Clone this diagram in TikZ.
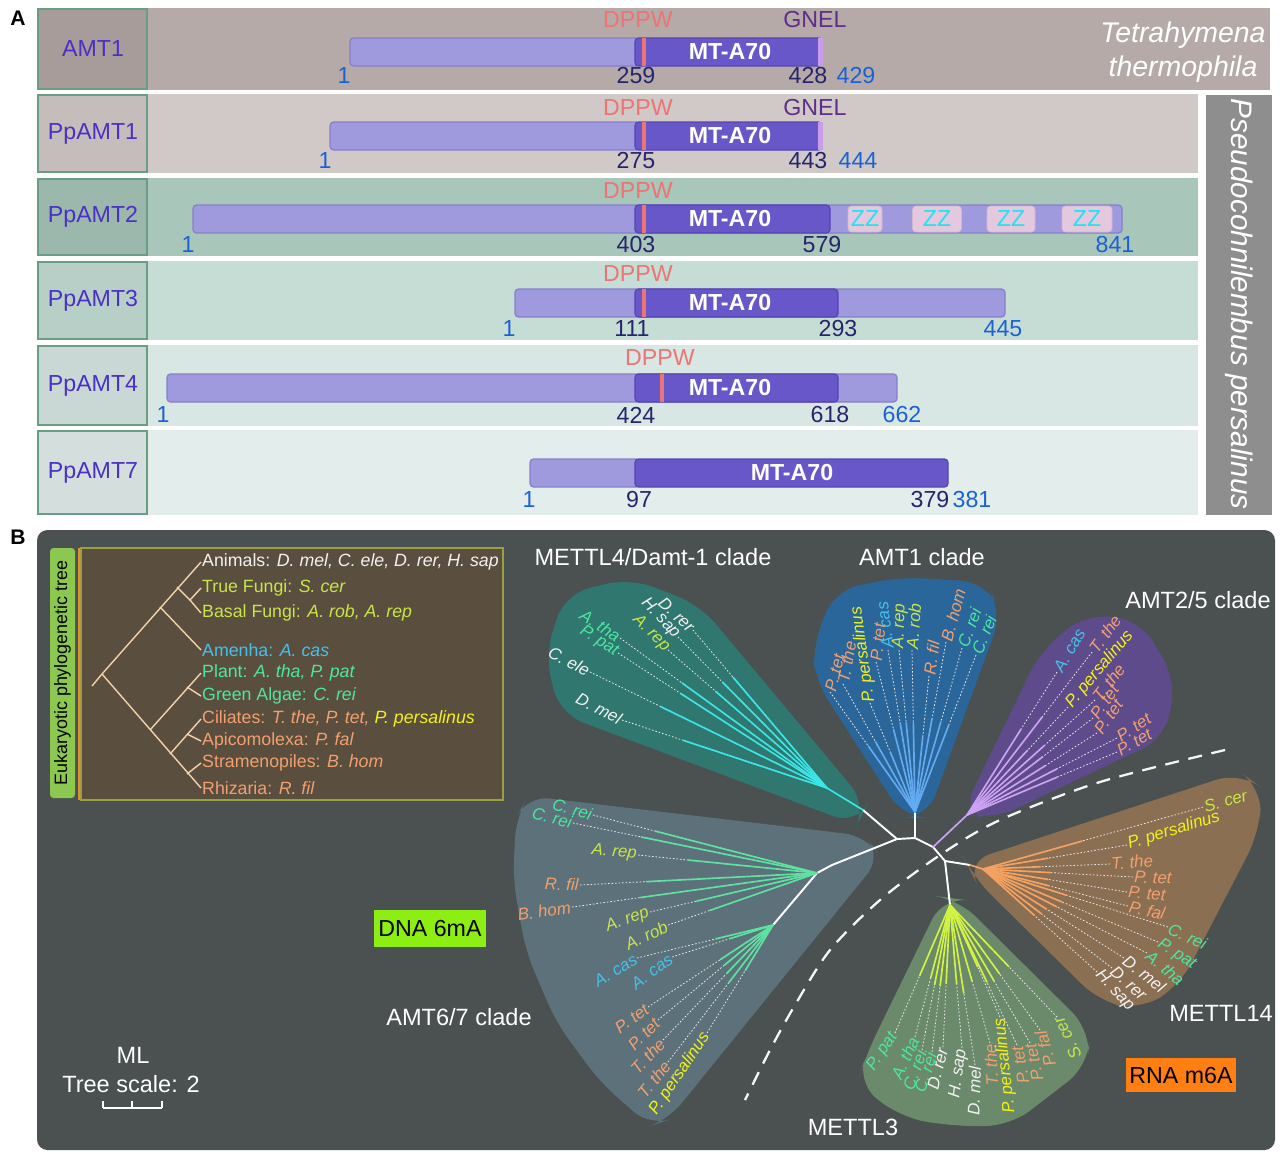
\documentclass[tikz,border=0pt]{standalone}
\usepackage{fontspec}
\setmainfont{Liberation Sans}
\usetikzlibrary{calc,positioning}

% panel A colours
\definecolor{rowa}{HTML}{B5AAA8}
\definecolor{rowb}{HTML}{D1C9C7}
\definecolor{rowc}{HTML}{A9C6BA}
\definecolor{rowd}{HTML}{C6DDD5}
\definecolor{rowe}{HTML}{D9E7E4}
\definecolor{rowf}{HTML}{E3EDEB}
\definecolor{boxa}{HTML}{A79C9A}
\definecolor{boxb}{HTML}{C5BDBB}
\definecolor{boxc}{HTML}{9CB8AC}
\definecolor{boxd}{HTML}{B8CFC7}
\definecolor{boxe}{HTML}{CAD8D5}
\definecolor{boxf}{HTML}{D4DEDC}
\definecolor{boxedge}{HTML}{6A9E84}
\definecolor{protname}{HTML}{4A30C4}
\definecolor{barlight}{HTML}{9F99DE}
\definecolor{barshade}{HTML}{8780C8}
\definecolor{bardark}{HTML}{6757C8}
\definecolor{bardarkshade}{HTML}{5546B2}
\definecolor{dppwred}{HTML}{EC7474}
\definecolor{gnelviolet}{HTML}{5E2E88}
\definecolor{gnelbar}{HTML}{C89CEA}
\definecolor{numblue}{HTML}{1A62D2}
\definecolor{numdark}{HTML}{26246A}
\definecolor{zzpink}{HTML}{E4C8DE}
\definecolor{zzcyan}{HTML}{1EE4F0}
\definecolor{sidegray}{HTML}{8E8E8E}
% panel B colours
\definecolor{panelbg}{HTML}{4A5150}
\definecolor{insetbrown}{HTML}{5A4E3E}
\definecolor{insetframe}{HTML}{9AA040}
\definecolor{insetgreen}{HTML}{8CC850}
\definecolor{insetorange}{HTML}{E0902A}
\definecolor{insettree}{HTML}{F2D2AA}
\definecolor{spwhite}{HTML}{F2F2F2}
\definecolor{spfungi}{HTML}{C8E64A}
\definecolor{spcyan}{HTML}{44C2EC}
\definecolor{spgreen}{HTML}{4EE6A0}
\definecolor{sporange}{HTML}{F2A070}
\definecolor{spyellow}{HTML}{F2F21A}
\definecolor{mfourfill}{HTML}{2F776F}
\definecolor{aonefill}{HTML}{2A6699}
\definecolor{atwofill}{HTML}{5E4B8C}
\definecolor{mfourteenfill}{HTML}{8B6F53}
\definecolor{mthreefill}{HTML}{6B8A6B}
\definecolor{asixfill}{HTML}{5C717A}
\definecolor{mfourline}{HTML}{3CE6E6}
\definecolor{aoneline}{HTML}{62AAF2}
\definecolor{atwoline}{HTML}{CCA2F2}
\definecolor{mfourteenline}{HTML}{F4A262}
\definecolor{mthreeline}{HTML}{D2F244}
\definecolor{asixline}{HTML}{5EE2A2}
\definecolor{dnagreen}{HTML}{8CEE12}
\definecolor{rnaorange}{HTML}{FF7F12}

\begin{document}
\begin{tikzpicture}[
    x=0.02cm, y=0.02cm,
    panel letter/.style={font=\fontsize{12}{14}\selectfont\bfseries, text=black},
    name box/.style={draw=boxedge, line width=1.2pt},
    prot name/.style={font=\fontsize{13.2}{15}\selectfont, text=protname},
    lbar/.style={fill=barlight, draw=barshade, line width=0.7pt, rounded corners=2pt},
    dbar/.style={fill=bardark, draw=bardarkshade, line width=0.7pt, rounded corners=2pt},
    mta text/.style={font=\fontsize{13.2}{15}\selectfont\bfseries, text=white},
    motif/.style={font=\fontsize{13.2}{15}\selectfont},
    num/.style={font=\fontsize{13.2}{15}\selectfont, inner sep=0pt},
    zz box/.style={fill=zzpink, draw=zzpink!80!gray, rounded corners=2pt, text=zzcyan,
        font=\fontsize{13.2}{15}\selectfont, minimum height=0.52cm, inner sep=0pt},
    species/.style={font=\fontsize{16.2}{19.5}\selectfont\itshape, text=white},
    clade title/.style={font=\fontsize{13.4}{15}\selectfont, text=white},
    leaf/.style={font=\fontsize{9.6}{11}\selectfont\itshape, inner sep=0.6pt},
    leafW/.style={leaf, anchor=west},
    leafE/.style={leaf, anchor=east},
    twig/.style={draw=white!85!gray, line width=0.45pt, dash pattern=on 0.9pt off 1.1pt},
    branch/.style={line width=0.95pt, line cap=round},
    spine/.style={draw=white, line width=1.1pt, line join=round},
    inset label/.style={font=\fontsize{10.1}{11}\selectfont, anchor=west, inner sep=0.5pt},
    inset tree/.style={draw=insettree, line width=0.8pt},
    tag box/.style={font=\fontsize{13.2}{15}\selectfont, text=black, inner sep=0pt}
]

% SAME BOUNDING BOX
\path[use as bounding box] (0,0) rectangle (1280,-1153);

%% ---------------- PANEL A ----------------
\node[panel letter] (lA) at (18,-18) {A};

% rows and name boxes
\foreach \nm/\top/\bot/\rgt/\bg/\bx in {
    AMT1/8/90/1270/rowa/boxa,
    PpAMT1/94/173/1198/rowb/boxb,
    PpAMT2/178/256/1198/rowc/boxc,
    PpAMT3/261/340/1198/rowd/boxd,
    PpAMT4/345/426/1198/rowe/boxe,
    PpAMT7/430/515/1198/rowf/boxf}{
  \fill[\bg] (37,-\top) rectangle (\rgt,-\bot);
  \draw[name box, fill=\bx] (38,-\top-1) rectangle (147,-\bot+1);
  \node[prot name] (n-\nm) at (93,{-(\top+\bot)/2}) {\nm};
}

% species side labels
\node[species, align=center] (tth) at (1183,-52) {Tetrahymena\\thermophila};
\fill[sidegray] (1206,-95) rectangle (1272,-515);
\node[species, rotate=-90, font=\fontsize{16.9}{19}\selectfont\itshape] (ppe) at (1239,-304) {Pseudocohnilembus persalinus};

% AMT1
\draw[lbar] (350,-38) rectangle (640,-66);
\draw[dbar] (635,-38) rectangle (822,-66);
\fill[gnelbar] (818,-38) rectangle (823,-66);
\fill[dppwred] (642,-38) rectangle (646,-66);
\node[mta text] (d1) at (730,-52) {MT-A70};
\node[motif, text=dppwred] (m1a) at (638,-20) {DPPW};
\node[motif, text=gnelviolet] (m1b) at (815,-20) {GNEL};
\node[num, text=numblue] at (344,-76) {1};
\node[num, text=numdark] at (636,-76) {259};
\node[num, text=numdark] at (808,-76) {428};
\node[num, text=numblue] at (856,-76) {429};

% PpAMT1
\draw[lbar] (330,-122) rectangle (640,-150);
\draw[dbar] (635,-122) rectangle (822,-150);
\fill[gnelbar] (818,-122) rectangle (823,-150);
\fill[dppwred] (642,-122) rectangle (646,-150);
\node[mta text] (d2) at (730,-136) {MT-A70};
\node[motif, text=dppwred] (m2a) at (638,-108) {DPPW};
\node[motif, text=gnelviolet] (m2b) at (815,-108) {GNEL};
\node[num, text=numblue] at (325,-161) {1};
\node[num, text=numdark] at (636,-161) {275};
\node[num, text=numdark] at (808,-161) {443};
\node[num, text=numblue] at (858,-161) {444};

% PpAMT2
\draw[lbar] (193,-205) rectangle (1122,-233);
\draw[dbar] (635,-205) rectangle (830,-233);
\fill[dppwred] (642,-205) rectangle (646,-233);
\node[mta text] (d3) at (730,-219) {MT-A70};
\node[zz box, minimum width=0.68cm] (zz1) at (865,-219) {ZZ};
\node[zz box, minimum width=0.98cm] (zz2) at (937,-219) {ZZ};
\node[zz box, minimum width=0.96cm] (zz3) at (1011,-219) {ZZ};
\node[zz box, minimum width=1.0cm] (zz4) at (1087,-219) {ZZ};
\node[motif, text=dppwred] (m3a) at (638,-191) {DPPW};
\node[num, text=numblue] at (188,-245) {1};
\node[num, text=numdark] at (636,-245) {403};
\node[num, text=numdark] at (822,-245) {579};
\node[num, text=numblue] at (1115,-245) {841};

% PpAMT3
\draw[lbar] (515,-289) rectangle (1005,-317);
\draw[dbar] (635,-289) rectangle (838,-317);
\fill[dppwred] (642,-289) rectangle (646,-317);
\node[mta text] (d4) at (730,-303) {MT-A70};
\node[motif, text=dppwred] (m4a) at (638,-274) {DPPW};
\node[num, text=numblue] at (509,-329) {1};
\node[num, text=numdark] at (632,-329) {111};
\node[num, text=numdark] at (838,-329) {293};
\node[num, text=numblue] at (1003,-329) {445};

% PpAMT4
\draw[lbar] (167,-374) rectangle (897,-402);
\draw[dbar] (635,-374) rectangle (838,-402);
\fill[dppwred] (660,-374) rectangle (664,-402);
\node[mta text] (d5) at (730,-388) {MT-A70};
\node[motif, text=dppwred] (m5a) at (660,-358) {DPPW};
\node[num, text=numblue] at (163,-415) {1};
\node[num, text=numdark] at (636,-415) {424};
\node[num, text=numdark] at (830,-415) {618};
\node[num, text=numblue] at (902,-415) {662};

% PpAMT7
\draw[lbar] (530,-459) rectangle (640,-487);
\draw[dbar] (635,-459) rectangle (948,-487);
\node[mta text] (d6) at (792,-473) {MT-A70};
\node[num, text=numblue] at (529,-500) {1};
\node[num, text=numdark] at (639,-500) {97};
\node[num, text=numdark] at (930,-500) {379};
\node[num, text=numblue] at (972,-500) {381};

%% ---------------- PANEL B ----------------
\node[panel letter] (lB) at (18,-537) {B};
\fill[panelbg, rounded corners=6pt] (37,-530) rectangle (1275,-1150);

% inset with the eukaryotic tree
\fill[insetgreen, rounded corners=2pt] (50,-548) rectangle (75,-798);
\node[rotate=90, font=\fontsize{10.2}{12}\selectfont, text=black] (ettl) at (62.5,-673) {Eukaryotic phylogenetic tree};
\draw[insetorange, line width=1.4pt] (79,-548) -- (79,-800);
\draw[insetframe, fill=insetbrown, line width=0.7pt] (81,-548) rectangle (503,-800);

\node[inset label, text=spwhite] (e1) at (201,-562) {Animals: \textit{D. mel, C. ele, D. rer, H. sap}};
\node[inset label, text=spfungi] (e2) at (201,-588) {True Fungi: \textit{S. cer}};
\node[inset label, text=spfungi] (e3) at (201,-613) {Basal Fungi: \textit{A. rob, A. rep}};
\node[inset label, text=spcyan] (e4) at (201,-650) {Amenha: \textit{A. cas}};
\node[inset label, text=spgreen] (e5) at (201,-673) {Plant: \textit{A. tha, P. pat}};
\node[inset label, text=spgreen] (e6) at (201,-696) {Green Algae: \textit{C. rei}};
\node[inset label, text=sporange] (e7) at (201,-719) {Ciliates: \textit{T. the, P. tet, \textcolor{spyellow}{P. persalinus}}};
\node[inset label, text=sporange] (e8) at (201,-741) {Apicomolexa: \textit{P. fal}};
\node[inset label, text=sporange] (e9) at (201,-763) {Stramenopiles: \textit{B. hom}};
\node[inset label, text=sporange] (e10) at (201,-788) {Rhizaria: \textit{R. fil}};

\coordinate (er) at (102,-674);
\coordinate (eu1) at (177,-587);
\coordinate (eu2) at (160,-607);
\coordinate (ef) at (190,-600);
\coordinate (el1) at (150,-730);
\coordinate (el1b) at (187,-687);
\coordinate (el2) at (170,-754);
\coordinate (el2b) at (187,-734);
\coordinate (el3) at (187,-774);
\draw[inset tree] (92,-686) -- (er);
\draw[inset tree] (er) -- (e1.west);
\draw[inset tree] (eu1) -- (ef) -- (e2.west);
\draw[inset tree] (ef) -- (e3.west);
\draw[inset tree] (eu2) -- (e4.west);
\draw[inset tree] (er) -- (e10.west);
\draw[inset tree] (el1) -- (e5.west);
\draw[inset tree] (el1b) -- (e6.west);
\draw[inset tree] (el2) -- (e7.west);
\draw[inset tree] (el2b) -- (e8.west);
\draw[inset tree] (el3) -- (e9.west);

% clade backgrounds
\fill[mfourfill, rounded corners=14pt] (545,-655) -- (565,-594) -- (630,-578) -- (700,-605) -- (867,-805) -- (857,-825) -- (560,-714) -- cycle;
\fill[aonefill, rounded corners=14pt] (812,-648) -- (835,-590) -- (900,-577) -- (985,-582) -- (1002,-612) -- (927,-818) -- (904,-818) -- (815,-680) -- cycle;
\fill[atwofill, rounded corners=14pt] (962,-813) -- (1040,-652) -- (1085,-614) -- (1140,-620) -- (1176,-680) -- (1165,-738) -- (992,-820) -- cycle;
\fill[mfourteenfill, rounded corners=14pt] (966,-862) -- (1240,-772) -- (1262,-788) -- (1259,-833) -- (1180,-985) -- (1140,-1010) -- (1100,-1002) -- (974,-878) -- cycle;
\fill[mthreefill, rounded corners=14pt] (943,-897) -- (958,-899) -- (1090,-1030) -- (1088,-1066) -- (1010,-1126) -- (950,-1126) -- (900,-1117) -- (857,-1083) -- (866,-1055) -- cycle;
\fill[asixfill, rounded corners=12pt] (528,-796) -- (866,-836) -- (881,-857) -- (668,-1120) -- (650,-1126) -- (600,-1082) -- (556,-1022) -- (526,-952) -- (513,-880) -- (516,-818) -- cycle;

% boundary between DNA 6mA and RNA m6A clades
\draw[white!92!gray, line width=1.3pt, dash pattern=on 8pt off 5.5pt]
  plot[smooth] coordinates {(1225,-750) (1100,-782) (1000,-820) (940,-855) (880,-900) (830,-950) (795,-1005) (770,-1050) (745,-1100)};

% backbone
\coordinate (tA) at (897,-839);
\coordinate (tB) at (915,-838);
\coordinate (tC) at (933,-847);
\coordinate (tD) at (945,-861);
\coordinate (m4b) at (863,-810);
\coordinate (m4n) at (827,-788);
\coordinate (a1n) at (915,-812);
\coordinate (a2n) at (967,-815);
\coordinate (m14b) at (970,-865);
\coordinate (m14n) at (983,-869);
\coordinate (m3n) at (950,-905);
\coordinate (a6e) at (832,-865);
\coordinate (a6f) at (817,-873);
\coordinate (a6g) at (773,-925);
\draw[spine] (tA) -- (tB) -- (tC) -- (tD);
\draw[spine] (tA) -- (m4b);
\draw[branch, mfourline] (m4b) -- (m4n);
\draw[spine] (tB) -- (a1n);
\draw[branch, atwoline] (tC) -- (a2n);
\draw[spine] (tD) -- (m14b);
\draw[branch, mfourteenline] (m14b) -- (m14n);
\draw[spine] (tD) -- (m3n);
\draw[spine] (tA) -- (a6e) -- (a6f) -- (a6g);

% METTL4/Damt-1 clade
\foreach \lx/\ly/\lr/\lab/\lc [count=\i] in {
    693/630/-43/D. rer/spwhite,
    678/637/-47/H. sap/spwhite,
    668/650/-45/A. rep/spfungi,
    620/638/-33/A. tha/spgreen,
    618/653/-32/P. pat/spgreen,
    590/672/-27/C. ele/spwhite,
    622/720/-27/D. mel/spwhite}{
  \node[leafE, rotate=\lr, text=\lc] (m4-\i) at (\lx,-\ly) {\lab};
  \coordinate (m4t-\i) at ($(m4n)!0.7!(m4-\i.east)$);
  \draw[twig] (m4-\i.east) -- (m4t-\i);
  \draw[branch, mfourline] (m4n) -- (m4t-\i);
}

% AMT1 clade
\foreach \lx/\ly/\lr/\lab/\lc [count=\i] in {
    830/692/76/P. tet/sporange,
    843/684/80/T. the/sporange,
    870/703/98/P. persalinus/spyellow,
    876/662/84/P. tet/sporange,
    888/650/97/A. cas/spcyan,
    899/650/88/A. rep/spfungi,
    912/650/86/A. rob/spfungi,
    929/676/82/R. fil/sporange,
    946/642/75/B. hom/sporange,
    962/648/70/C. rei/spgreen,
    976/655/68/C. rei/spgreen}{
  \node[leafW, rotate=\lr, text=\lc] (a1-\i) at (\lx,-\ly) {\lab};
  \coordinate (a1t-\i) at ($(a1n)!0.55!(a1-\i.west)$);
  \draw[twig] (a1-\i.west) -- (a1t-\i);
  \draw[branch, aoneline] (a1n) -- (a1t-\i);
}

% AMT2/5 clade
\foreach \lx/\ly/\lr/\lab/\lc [count=\i] in {
    1057/672/60/A. cas/spcyan,
    1092/652/54/T. the/sporange,
    1068/707/50/P. persalinus/spyellow,
    1095/700/52/T. the/sporange,
    1093/718/55/P. tet/sporange,
    1097/733/55/P. tet/sporange,
    1117/738/33/P. tet/sporange,
    1117/752/30/P. tet/sporange}{
  \node[leafW, rotate=\lr, text=\lc] (a2-\i) at (\lx,-\ly) {\lab};
  \coordinate (a2t-\i) at ($(a2n)!0.6!(a2-\i.west)$);
  \draw[twig] (a2-\i.west) -- (a2t-\i);
  \draw[branch, atwoline] (a2n) -- (a2t-\i);
}

% METTL14 clade
\foreach \lx/\ly/\lr/\lab/\lc [count=\i] in {
    1203/807/15/S. cer/spfungi,
    1127/845/17/P. persalinus/spyellow,
    1110/864/5/T. the/sporange,
    1133/877/-2/P. tet/sporange,
    1127/892/-5/P. tet/sporange,
    1128/906/-12/P. fal/sporange,
    1168/927/-25/C. rei/spgreen,
    1158/942/-33/P. pat/spgreen,
    1147/953/-40/A. tha/spgreen,
    1124/958/-38/D. mel/spwhite,
    1112/968/-42/D. rer/spwhite,
    1097/972/-47/H. sap/spwhite}{
  \node[leafW, rotate=\lr, text=\lc] (m14-\i) at (\lx,-\ly) {\lab};
  \coordinate (m14t-\i) at ($(m14n)!0.45!(m14-\i.west)$);
  \draw[twig] (m14-\i.west) -- (m14t-\i);
  \draw[branch, mfourteenline] (m14n) -- (m14t-\i);
}

% METTL3 clade
\foreach \lx/\ly/\lr/\lab/\lc [count=\i] in {
    895/1033/56/P. pat/spgreen,
    915/1037/65/A. tha/spgreen,
    922/1050/70/C. rei/spgreen,
    932/1052/72/C. rei/spgreen,
    943/1047/76/D. rer/spwhite,
    962/1048/82/H. sap/spwhite,
    975/1065/88/D. mel/spwhite,
    990/1043/93/T. the/sporange,
    1000/1017/96/P. persalinus/spyellow,
    1017/1045/100/P. tet/sporange,
    1030/1043/102/P. tet/sporange,
    1040/1030/106/P. fal/sporange,
    1057/1017/116/S. cer/spfungi}{
  \node[leafE, rotate=\lr, text=\lc] (m3-\i) at (\lx,-\ly) {\lab};
  \coordinate (m3t-\i) at ($(m3n)!0.55!(m3-\i.east)$);
  \draw[twig] (m3-\i.east) -- (m3t-\i);
  \draw[branch, mthreeline] (m3n) -- (m3t-\i);
}

% AMT6/7 clade, upper part
\foreach \lx/\ly/\lr/\lab/\lc [count=\i] in {
    593/815/-16/C. rei/spgreen,
    573/823/-14/C. rei/spgreen,
    638/855/-6/A. rep/spfungi,
    580/885/-2/R. fil/sporange,
    572/907/8/B. hom/sporange,
    650/912/20/A. rep/spfungi,
    668/925/26/A. rob/spfungi}{
  \node[leafE, rotate=\lr, text=\lc] (a6-\i) at (\lx,-\ly) {\lab};
  \coordinate (a6t-\i) at ($(a6f)!0.72!(a6-\i.east)$);
  \draw[twig] (a6-\i.east) -- (a6t-\i);
  \draw[branch, asixline] (a6f) -- (a6t-\i);
}

% AMT6/7 clade, lower part
\foreach \lx/\ly/\lr/\lab/\lc [count=\i] in {
    637/958/30/A. cas/spcyan,
    672/957/36/A. cas/spcyan,
    648/1007/36/P. tet/sporange,
    658/1020/45/P. tet/sporange,
    663/1040/47/T. the/sporange,
    668/1062/51/T. the/sporange,
    707/1033/56/P. persalinus/spyellow}{
  \node[leafE, rotate=\lr, text=\lc] (a7-\i) at (\lx,-\ly) {\lab};
  \coordinate (a7t-\i) at ($(a6g)!0.42!(a7-\i.east)$);
  \draw[twig] (a7-\i.east) -- (a7t-\i);
  \draw[branch, asixline] (a6g) -- (a7t-\i);
}

% clade titles
\node[clade title] (tm4) at (653,-557) {METTL4/Damt-1 clade};
\node[clade title] (ta1) at (922,-557) {AMT1 clade};
\node[clade title] (ta2) at (1198,-600) {AMT2/5 clade};
\node[clade title] (ta6) at (459,-1017) {AMT6/7 clade};
\node[clade title] (tm14) at (1221,-1013) {METTL14};
\node[clade title] (tm3) at (853,-1127) {METTL3};

% DNA / RNA tags
\node[tag box, fill=dnagreen, minimum width=2.26cm, minimum height=0.74cm] (dna) at (430,-928) {DNA 6mA};
\node[tag box, fill=rnaorange, minimum width=2.2cm, minimum height=0.68cm] (rna) at (1181,-1075) {RNA m6A};

% tree scale
\node[clade title] (ml) at (133,-1055) {ML};
\node[clade title] (tsc) at (131,-1084) {Tree scale: 2};
\coordinate (sb1) at (103,-1108);
\coordinate (sb2) at (132,-1108);
\coordinate (sb3) at (162,-1108);
\draw[white, line width=1.2pt] (sb1) -- (sb3);
\foreach \s in {sb1,sb2,sb3}
  \draw[white, line width=1.2pt] (\s) -- ++(0,7);

\end{tikzpicture}
\end{document}
